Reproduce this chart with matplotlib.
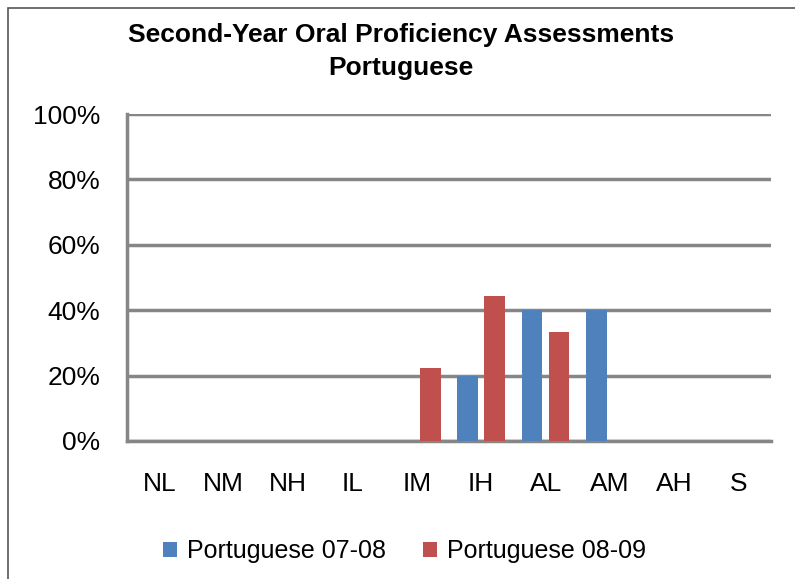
import matplotlib.pyplot as plt
import matplotlib.patches as mpatches
import numpy as np

plt.rcParams['font.family'] = ['Liberation Sans', 'DejaVu Sans']

# Data
levels = ['NL', 'NM', 'NH', 'IL', 'IM', 'IH', 'AL', 'AM', 'AH', 'S']
pt_0708 = [0, 0, 0, 0, 0, 20.0, 40.0, 40.0, 0, 0]
pt_0809 = [0, 0, 0, 0, 22.2, 44.4, 33.3, 0, 0, 0]
series_names = ['Portuguese 07-08', 'Portuguese 08-09']
yticks = [0, 20, 40, 60, 80, 100]

blue = '#4f81bd'
red = '#c0504d'
grid_col = '#868686'

fig = plt.figure(figsize=(7.95, 5.79), dpi=100)
ax = fig.add_axes([127/795, 1-441/579, (771-127)/795, (441-114)/579])

# outer chart border
fig.patches.append(mpatches.Rectangle((8/795, -0.1), 1.2, 1-8/579+0.1,
                                      transform=fig.transFigure, fill=False,
                                      edgecolor='#555555', linewidth=1.2))

x = np.arange(len(levels))
w = 0.32
off = 0.21
ax.bar(x - off, pt_0708, w, color=blue, label=series_names[0], zorder=3)
ax.bar(x + off, pt_0809, w, color=red, label=series_names[1], zorder=3)

ax.set_xlim(-0.5, len(levels) - 0.5)
ax.set_ylim(0, 100)
ax.set_yticks(yticks)
ax.set_yticklabels([f'{v}%' for v in yticks], fontsize=19)
ax.set_xticks(x)
ax.set_xticklabels(levels, fontsize=19)
ax.tick_params(axis='both', length=0)
ax.tick_params(axis='y', pad=19)
ax.tick_params(axis='x', pad=22)

ax.grid(axis='y', color=grid_col, linewidth=2.5, zorder=0)
ax.axhline(0, color=grid_col, linewidth=2.5, clip_on=False, zorder=2)
for s in ['top', 'right', 'bottom']:
    ax.spines[s].set_visible(False)
ax.spines['left'].set_color(grid_col)
ax.spines['left'].set_linewidth(2.5)

fig.text(0.504, 1-42/579, 'Second-Year Oral Proficiency Assessments',
         ha='center', va='baseline', fontsize=19, fontweight='bold')
fig.text(0.504, 1-75/579, 'Portuguese',
         ha='center', va='baseline', fontsize=19, fontweight='bold')

fig.legend(loc='center', bbox_to_anchor=(0.509, 1-551/579), ncol=2,
           frameon=False, fontsize=18, handlelength=0.55, handleheight=0.55,
           handletextpad=0.4, columnspacing=1.48)

fig.savefig('out.png', dpi=100)
